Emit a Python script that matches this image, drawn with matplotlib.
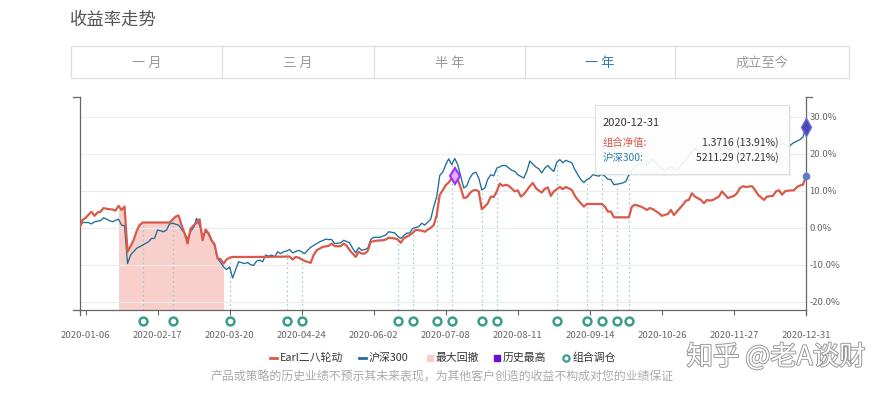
import numpy as np
import matplotlib.pyplot as plt
from matplotlib.lines import Line2D
from matplotlib.patches import Rectangle, FancyBboxPatch
from matplotlib.transforms import blended_transform_factory
import matplotlib.patheffects as pe

plt.rcParams['font.family'] = ['Noto Sans CJK SC', 'DejaVu Sans']

# x axis = trading day index of 2020 (0 = 2020-01-02, 242 = 2020-12-31)
tick_labels = ['2020-01-06', '2020-02-17', '2020-03-20', '2020-04-24', '2020-06-02', '2020-07-08',
               '2020-08-11', '2020-09-14', '2020-10-26', '2020-11-27', '2020-12-31']
tick_idx = [2, 26, 50, 74, 98, 122, 146, 170, 194, 218, 242]

# Earl二八轮动, return in %
red_idx = [0, 1, 2, 3, 4, 5, 6, 7, 8, 9, 10, 11, 12, 13, 14, 15, 16, 17, 18, 19, 20, 21, 30,
           31, 32, 33, 34, 35, 36, 37, 38, 39, 40, 41, 42, 43, 44, 45, 46, 47, 48, 49, 50, 51, 60, 70,
           71, 72, 73, 75, 77, 78, 79, 81, 83, 84, 85, 87, 88, 89, 90, 91, 92, 93, 94, 95, 96, 97,
           99, 101, 102, 103, 105, 106, 107, 108, 110, 111, 112, 114, 115, 117, 118, 119, 120, 121,
           122, 123, 124, 125, 126, 127, 128, 129, 130, 131, 132, 133, 134, 135, 136, 137, 138, 139,
           140, 141, 142, 143, 145, 146, 147, 148, 150, 151, 152, 153, 154, 155, 156, 157, 158, 160,
           161, 162, 164, 165, 166, 167, 168, 169, 174, 175, 176, 177, 178, 183, 184, 185, 187, 188,
           189, 190, 191, 193, 194, 196, 197, 198, 199, 201, 202, 203, 204, 205, 207, 208, 209, 210,
           211, 213, 214, 215, 216, 218, 219, 220, 221, 222, 224, 225, 226, 228, 229, 231, 232, 233,
           234, 235, 236, 238, 239, 240, 241, 242]
red_val = [0.0, 2.1, 2.6, 3.5, 4.3, 3.2, 4.1, 4.3, 5.3, 5.1, 5.0, 4.9, 4.6, 5.9, 4.8, 5.7, -6.5, -5.0, -3.4, -1.0, 0.7, 1.4, 1.4,
           2.2, 3.0, 3.3, 0.7, -1.5, -4.3, -0.3, 0.6, 1.3, 2.3, -3.4, -0.5, -1.5, -3.4, -4.5, -8.3, -8.5, -9.7, -8.6, -8.1, -7.9, -7.9, -7.8,
           -8.6, -7.9, -8.1, -9.0, -9.5, -7.4, -6.1, -5.2, -4.9, -4.3, -5.0, -5.0, -4.3, -4.9, -6.1, -7.0, -7.9, -6.5, -7.0, -7.0, -6.3, -3.8,
           -3.5, -3.4, -3.2, -2.7, -2.9, -3.2, -4.1, -2.9, -2.0, -1.4, -0.6, -0.8, -1.1, 0.0, 0.7, 3.4, 8.9, 10.1,
           11.5, 12.2, 13.4, 14.05, 13.0, 10.7, 8.0, 8.2, 9.3, 10.0, 10.2, 9.8, 5.0, 5.7, 6.6, 8.4, 8.3, 9.8,
           11.9, 11.3, 11.6, 11.3, 9.8, 10.1, 8.4, 9.0, 11.2, 12.1, 10.7, 10.0, 9.5, 10.5, 10.9, 8.6, 9.8, 11.0,
           10.4, 11.0, 10.2, 8.6, 7.5, 6.6, 5.7, 6.4, 6.4, 5.7, 4.35, 4.35, 2.8, 2.8, 5.7, 6.2, 5.7, 5.3,
           4.8, 5.3, 5.0, 3.9, 3.2, 3.7, 4.8, 3.4, 4.35, 6.2, 7.3, 7.5, 9.3, 8.4, 7.5, 6.6, 7.5, 7.3,
           7.5, 8.4, 9.8, 8.9, 8.0, 8.6, 9.3, 10.7, 11.2, 11.0, 11.2, 10.2, 8.9, 7.5, 8.4, 8.6, 9.8, 10.1,
           8.9, 9.8, 10.0, 10.1, 11.0, 11.4, 11.6, 13.91]

# 沪深300, return in %
blue_idx = [0, 1, 3, 4, 5, 7, 8, 10, 11, 13, 14, 15, 16, 17, 19, 21, 23, 24, 25, 26, 28, 29, 30, 31, 33,
            34, 35, 36, 37, 38, 39, 40, 41, 42, 43, 44, 45, 46, 47, 48, 49, 50, 51, 53, 55, 56, 57, 58, 59,
            60, 61, 62, 63, 64, 65, 66, 67, 68, 69, 70, 71, 73, 74, 75, 76, 77, 79, 80, 81, 82, 83, 84, 85,
            87, 88, 90, 91, 92, 93, 94, 95, 96, 97, 98, 100, 102, 103, 105, 106, 107, 109, 110, 111, 113,
            114, 115, 117, 118, 119, 120, 121, 122, 123, 124, 125, 126, 127, 128, 129, 130, 131, 132, 133,
            134, 135, 136, 137, 138, 139, 141, 142, 143, 144, 145, 146, 148, 149, 150, 152, 153, 154, 155,
            156, 157, 158, 159, 160, 161, 162, 164, 165, 166, 167, 168, 169, 170, 171, 173, 174, 175, 176,
            177, 178, 180, 181, 182, 183, 185, 187, 189, 191, 193, 195, 197, 199, 201, 203, 205, 207, 209,
            211, 213, 215, 217, 219, 221, 223, 225, 227, 229, 231, 233, 235, 236, 238, 240, 241, 242]
blue_val = [0.0, 1.4, 1.4, 1.0, 1.6, 1.9, 2.7, 1.9, 1.6, 2.3, 0.7, 0.5, -9.7, -7.4, -5.6, -4.7, -3.8, -2.9, -2.9, -0.6, -1.1, -0.6, 1.0, 1.2, 0.7,
            -0.45, -1.5, -3.0, -1.0, 0.0, 2.5, 0.7, -2.5, -0.8, -1.8, -3.5, -4.8, -8.3, -9.4, -10.6, -11.3, -10.6, -13.6, -9.2, -9.7, -9.4, -10.0, -10.2, -9.0,
            -8.8, -9.2, -7.4, -7.7, -7.4, -7.9, -6.5, -7.0, -6.5, -6.3, -5.9, -6.8, -6.1, -6.5, -7.0, -6.1, -5.3, -4.3, -3.8, -3.5, -3.1, -3.2, -3.2, -4.3,
            -4.1, -3.4, -4.1, -5.6, -6.8, -5.4, -6.1, -5.9, -5.6, -3.2, -2.6, -2.6, -2.0, -1.1, -1.4, -2.3, -2.9, -1.5, -1.4, -0.2, 0.3,
            1.2, 0.7, 2.3, 5.7, 8.4, 14.1, 15.0, 17.0, 18.6, 17.0, 18.7, 17.0, 13.9, 10.7, 11.3, 13.4, 14.6, 15.0, 13.4,
            10.2, 10.7, 13.1, 14.3, 14.0, 16.1, 16.8, 16.8, 16.1, 15.5, 15.2, 14.3, 13.4, 15.2, 18.0, 16.4, 15.9, 14.8, 16.1,
            16.8, 15.9, 15.2, 17.7, 18.4, 17.5, 18.2, 17.5, 15.7, 14.3, 13.0, 12.2, 13.0, 13.4, 14.3, 13.9, 14.6, 13.9, 13.1,
            13.0, 11.6, 11.9, 12.1, 12.5, 14.3, 16.5, 17.5, 17.0, 18.5, 16.5, 15.5, 16.5, 15.5, 17.5, 19.5, 21.5, 20.0, 18.5,
            19.5, 20.5, 22.0, 21.0, 22.0, 23.5, 23.0, 22.0, 20.5, 21.5, 22.5, 23.5, 22.5, 21.8, 23.0, 23.8, 24.5, 27.21]

# 组合调仓 (rebalance days, trading day index)
rebalance_idx = [21, 31, 50, 69, 74, 106, 111, 119, 124, 134, 139, 159, 169, 174, 179, 183]

yticks = [-20, -10, 0, 10, 20, 30]

tip_date = '2020-12-31'
tip_nav = '1.3716'
tip_index = '5211.29'

RED = '#d95a4b'
BLUE = '#1f6e99'
TEAL = '#3a9e8b'
W, H = 890, 396


def fx(x):
    return x / W


def fy(y):
    return 1 - y / H


red_idx = np.array(red_idx)
red_val = np.array(red_val)
blue_idx = np.array(blue_idx)
blue_val = np.array(blue_val)

fig = plt.figure(figsize=(W / 100, H / 100), dpi=100)
ax = fig.add_axes([fx(79.5), fy(309.5), (806 - 79.5) / W, (309.5 - 97) / H])
ymin, ymax = -22.1, 35.3
ax.set_xlim(0, 242)
ax.set_ylim(ymin, ymax)

# max drawdown region from data
dd = red_val - np.maximum.accumulate(red_val)
trough = np.argmin(dd)
peak = np.argmax(red_val[:trough + 1])
mask = (red_idx >= red_idx[peak]) & (red_idx <= red_idx[trough])
ax.fill_between(red_idx, red_val, ymin, where=mask, color='#f8cfca', lw=0, zorder=1)

# rebalance dotted lines
tops = np.maximum(np.interp(rebalance_idx, red_idx, red_val), np.interp(rebalance_idx, blue_idx, blue_val))
ax.vlines(rebalance_idx, ymin, tops, colors='#93c9c3', linestyles=(0, (1.2, 2.5)), lw=0.9, zorder=2)

ax.plot(blue_idx, blue_val, color=BLUE, lw=0.95, zorder=3)
ax.plot(red_idx, red_val, color=RED, lw=1.6, zorder=4)

# 历史最高
hi = np.argmax(red_val)
ax.plot(red_idx[hi], red_val[hi], marker='d', ms=8.5, mfc='#dcb0ff', mec='#9b30ff', mew=1.5, zorder=6)

# hover markers at last point
ax.plot(blue_idx[-1], blue_val[-1], marker='d', ms=9, mfc='#4a47b8', mec='#6b68d8', mew=1, zorder=7, clip_on=False)
ax.plot(red_idx[-1], red_val[-1], marker='o', ms=4.5, mfc='#5b7fc4', mec='#5b7fc4', zorder=7, clip_on=False)

# rebalance circles below the axis
trans = blended_transform_factory(ax.transData, ax.transAxes)
ax.scatter(rebalance_idx, [-11.5 / 212.5] * len(rebalance_idx), s=32, facecolors='white',
           edgecolors=TEAL, linewidths=1.8, transform=trans, clip_on=False, zorder=8)

ax.set_yticks(yticks)
ax.set_yticklabels([f'{v:.1f}%' for v in yticks])
ax.yaxis.tick_right()
ax.tick_params(axis='y', length=0, pad=2.5, labelsize=6.8, labelcolor='#666')
ax.grid(axis='y', color='#ececec', lw=0.8, zorder=0)
ax.set_xticks(tick_idx)
ax.set_xticklabels(tick_labels)
ax.tick_params(axis='x', length=3.6, width=0.8, color='#666', pad=12, labelsize=6.9, labelcolor='#666')
ax.spines['top'].set_visible(False)
for s in ['left', 'right', 'bottom']:
    ax.spines[s].set_color('#666')
    ax.spines[s].set_linewidth(0.9)

# small axis ends
for (x0, y0, x1, y1) in [(73, 97, 79.5, 97), (806, 97, 812, 97), (73, 309.5, 79.5, 309.5),
                         (79.5, 309.5, 79.5, 314.5), (806, 309.5, 806, 314.5)]:
    fig.add_artist(Line2D([fx(x0), fx(x1)], [fy(y0), fy(y1)], color='#666', lw=0.9))

# title and tabs
fig.text(fx(70), fy(20), '收益率走势', fontsize=12.5, color='#555', va='center', ha='left')
fig.add_artist(Rectangle((fx(71), fy(78)), (849 - 71) / W, 32 / H, fill=False, ec='#dedede', lw=0.9,
                         transform=fig.transFigure))
bounds = [71, 222, 374, 525, 675, 849]
for xb in bounds[1:-1]:
    fig.add_artist(Line2D([fx(xb), fx(xb)], [fy(46), fy(78)], color='#dedede', lw=0.9))
tabs = ['一 月', '三 月', '半 年', '一 年', '成立至今']
for i, t in enumerate(tabs):
    c = '#2b7bb9' if t == '一 年' else '#999'
    fig.text(fx((bounds[i] + bounds[i + 1]) / 2), fy(63), t, fontsize=9.5, color=c, ha='center', va='center')

# tooltip
fig.add_artist(FancyBboxPatch((fx(597), fy(176)), (789 - 595) / W, (174 - 105) / H, boxstyle='square,pad=0',
                              fc='#000', ec='none', alpha=0.06, transform=fig.transFigure))
fig.add_artist(FancyBboxPatch((fx(595), fy(174)), (789 - 595) / W, (174 - 105) / H, boxstyle='square,pad=0',
                              fc='white', ec='#dddddd', lw=0.8, alpha=0.92, transform=fig.transFigure))
fig.text(fx(603), fy(123), tip_date, fontsize=8, color='#333', va='center')
fig.text(fx(603), fy(143), '组合净值:', fontsize=7.5, color=RED, va='center')
fig.text(fx(603), fy(158), '沪深300:', fontsize=7.5, color='#2a7fb0', va='center')
fig.text(fx(779), fy(143), f'{tip_nav} ({red_val[-1]:.2f}%)', fontsize=7.5, color='#333', va='center', ha='right')
fig.text(fx(779), fy(158), f'{tip_index} ({blue_val[-1]:.2f}%)', fontsize=7.5, color='#333', va='center', ha='right')

# legend
ly = fy(358)
fs = 7.8
fig.add_artist(Line2D([fx(270), fx(277)], [ly, ly], color=RED, lw=2))
fig.text(fx(280), ly, 'Earl二八轮动', fontsize=fs, color='#333', va='center')
fig.add_artist(Line2D([fx(359), fx(366)], [ly, ly], color=BLUE, lw=2))
fig.text(fx(369), ly, '沪深300', fontsize=fs, color='#333', va='center')
fig.add_artist(Rectangle((fx(427), fy(361)), 6 / W, 6 / H, color='#f6d0cc', transform=fig.transFigure))
fig.text(fx(436), ly, '最大回撤', fontsize=fs, color='#333', va='center')
fig.add_artist(Rectangle((fx(494), fy(361)), 6 / W, 6 / H, color='#6a0fd8', transform=fig.transFigure))
fig.text(fx(503), ly, '历史最高', fontsize=fs, color='#333', va='center')
fig.add_artist(Line2D([fx(566)], [ly], marker='o', ms=4.5, mfc='white', mec=TEAL, mew=1.6))
fig.text(fx(573), ly, '组合调仓', fontsize=fs, color='#333', va='center')

fig.text(fx(442), fy(377), '产品或策略的历史业绩不预示其未来表现，为其他客户创造的收益不构成对您的业绩保证',
         fontsize=8.6, color='#aaa', ha='center', va='center')

# watermark
fig.text(fx(776), fy(357), '知乎 @老A谈财', fontsize=19, color='white', ha='center', va='center',
         path_effects=[pe.withStroke(linewidth=1.4, foreground='#999999')])

fig.savefig('out.png', dpi=100)
